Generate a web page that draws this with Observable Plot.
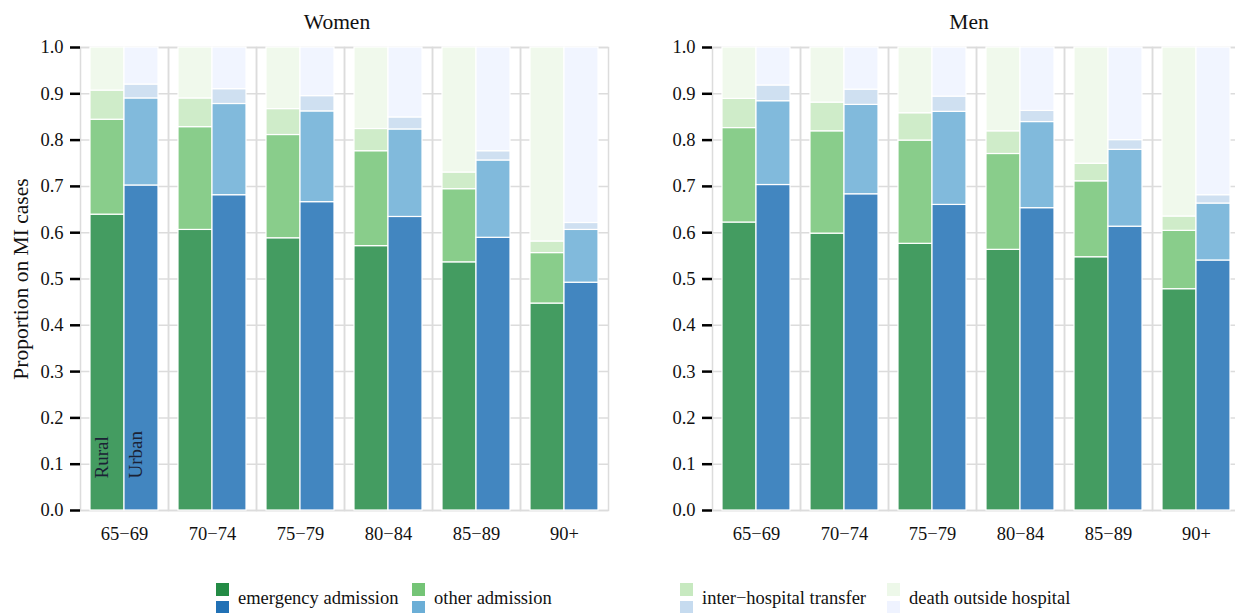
<!DOCTYPE html>
<html>
<head>
<meta charset="utf-8">
<script src="https://cdn.jsdelivr.net/npm/d3@7"></script>
<script src="https://cdn.jsdelivr.net/npm/@observablehq/plot@0.6"></script>
<style>
  html, body { margin: 0; padding: 0; background: #fff; overflow: hidden; }
  #root { position: relative; width: 1235px; height: 613px; overflow: hidden; font-family: "Liberation Serif", "DejaVu Serif", serif; color: #111; }
  .panel { position: absolute; top: 0; }
  .title { position: absolute; top: 9px; font-size: 21.5px; text-align: center; width: 200px; line-height: 26px; }
  .ylab { position: absolute; font-size: 21.5px; white-space: nowrap; line-height: 24px; width: 300px; text-align: center; }
  .leg { position: absolute; top: 578px; height: 36px; font-size: 18.5px; }
  .sw { position: absolute; left: 0; width: 13px; height: 13px; }
  .lt { position: absolute; left: 22px; top: 10px; white-space: nowrap; line-height: 20px; }
</style>
</head>
<body>
<div id="root"></div>
<script>
// ---- data ----
const ages = ["65−69", "70−74", "75−79", "80−84", "85−89", "90+"];
const settings = ["Rural", "Urban"];
const categories = ["emergency admission", "other admission", "inter−hospital transfer", "death outside hospital"];
const yTicks = [0, 0.1, 0.2, 0.3, 0.4, 0.5, 0.6, 0.7, 0.8, 0.9, 1.0];
const yLabelText = "Proportion on MI cases";
const panelTitles = ["Women", "Men"];

// rows: emergency, other, transfer, death; columns: ages
const womenRural = [
  [0.639, 0.606, 0.588, 0.571, 0.536, 0.447],
  [0.205, 0.222, 0.223, 0.205, 0.158, 0.109],
  [0.063, 0.062, 0.056, 0.048, 0.036, 0.025],
  [0.093, 0.110, 0.133, 0.176, 0.270, 0.419]
];
const womenUrban = [
  [0.702, 0.681, 0.666, 0.634, 0.589, 0.492],
  [0.188, 0.197, 0.196, 0.189, 0.167, 0.114],
  [0.030, 0.032, 0.033, 0.026, 0.020, 0.015],
  [0.080, 0.090, 0.105, 0.151, 0.224, 0.379]
];
const menRural = [
  [0.622, 0.598, 0.576, 0.563, 0.547, 0.478],
  [0.204, 0.221, 0.223, 0.207, 0.164, 0.126],
  [0.063, 0.062, 0.059, 0.049, 0.038, 0.031],
  [0.111, 0.119, 0.142, 0.181, 0.251, 0.365]
];
const menUrban = [
  [0.703, 0.683, 0.660, 0.653, 0.613, 0.540],
  [0.181, 0.193, 0.201, 0.186, 0.166, 0.123],
  [0.034, 0.033, 0.033, 0.024, 0.021, 0.018],
  [0.082, 0.091, 0.106, 0.137, 0.200, 0.319]
];

const ruralLegendColors = ["#238b45", "#74c476", "#c7e9c0", "#edf8e9"];
const urbanLegendColors = ["#2171b5", "#6baed6", "#c6dbef", "#eff3ff"];
const ruralBarColors = ["#449c61", "#89cd8b", "#cfecc9", "#f0f9ec"];
const urbanBarColors = ["#4286c0", "#81badc", "#cfe0f1", "#f1f5ff"];

// ---- build tidy rows ----
function rows(rural, urban) {
  const out = [];
  [["Rural", rural], ["Urban", urban]].forEach(([setting, m]) => {
    categories.forEach((cat, ci) => {
      ages.forEach((age, ai) => {
        out.push({age, setting, category: cat, key: setting + "|" + cat, value: m[ci][ai]});
      });
    });
  });
  return out;
}
const keys = [...categories.map(c => "Rural|" + c), ...categories.map(c => "Urban|" + c)];
const keyColors = [...ruralBarColors, ...urbanBarColors];

const gridColor = "#dcdcdc";
const serif = "'Liberation Serif', 'DejaVu Serif', serif";

function panel(data, {width, marginLeft, marginRight, annotate}) {
  const marks = [
    Plot.frame({stroke: gridColor, strokeWidth: 1.5}),
    Plot.gridY({ticks: yTicks, stroke: gridColor, strokeOpacity: 1, strokeWidth: 1.5}),
    Plot.barY(data, Plot.stackY({
      fx: "age", x: "setting", y: "value", z: "category", fill: "key",
      stroke: "white", strokeWidth: 1.2
    })),
    Plot.axisY({
      ticks: yTicks, tickFormat: ".1f", tickSize: 10, tickPadding: 7,
      strokeWidth: 2.5, line: true, stroke: "#000",
      label: null, fontSize: 18.5, fontFamily: serif, fill: "#111"
    }),
    Plot.axisFx({anchor: "bottom", tickSize: 0, tickPadding: 16, label: null, fontSize: 18.5, fontFamily: serif, fill: "#111"})
  ];
  if (annotate) {
    const ann = settings.map(s => ({age: ages[0], setting: s}));
    marks.push(Plot.text(ann, {
      fx: "age", x: "setting", frameAnchor: "bottom", text: "setting",
      rotate: -90, textAnchor: "start", dy: -32, fontSize: 19, fill: "#1b2235", fontFamily: serif
    }));
  }
  return Plot.plot({
    width, height: 560,
    marginLeft, marginRight, marginTop: 47, marginBottom: 50,
    style: {fontFamily: serif, fontSize: "18.5px", color: "#111", background: "transparent", overflow: "visible"},
    fx: {domain: ages, padding: 0, label: null, axis: null},
    x: {domain: settings, paddingInner: 0, paddingOuter: 0.27, axis: null},
    y: {domain: [0, 1], label: null, axis: null},
    color: {domain: keys, range: keyColors},
    marks
  });
}

const root = document.getElementById("root");

const women = panel(rows(womenRural, womenUrban), {width: 620, marginLeft: 80, marginRight: 12, annotate: true});
women.classList.add("panel");
women.style.left = "0px";
root.appendChild(women);

const men = panel(rows(menRural, menUrban), {width: 630, marginLeft: 92, marginRight: 10, annotate: false});
men.classList.add("panel");
men.style.left = "620px";
root.appendChild(men);

// titles
function title(text, center) {
  const d = document.createElement("div");
  d.className = "title";
  d.textContent = text;
  d.style.left = (center - 100) + "px";
  root.appendChild(d);
}
title(panelTitles[0], 337);
title(panelTitles[1], 969);

// y label
const yl = document.createElement("div");
yl.className = "ylab";
yl.textContent = yLabelText;
yl.style.left = (21 - 150) + "px";
yl.style.top = (279 - 12) + "px";
yl.style.transform = "rotate(-90deg)";
root.appendChild(yl);

// legend
const legendX = [216, 412, 680, 887];
categories.forEach((cat, i) => {
  const g = document.createElement("div");
  g.className = "leg";
  g.style.left = legendX[i] + "px";
  const a = document.createElement("div");
  a.className = "sw"; a.style.top = "5px"; a.style.background = ruralLegendColors[i];
  const b = document.createElement("div");
  b.className = "sw"; b.style.top = "23px"; b.style.background = urbanLegendColors[i];
  const t = document.createElement("div");
  t.className = "lt"; t.textContent = cat;
  g.appendChild(a); g.appendChild(b); g.appendChild(t);
  root.appendChild(g);
});
</script>
</body>
</html>
